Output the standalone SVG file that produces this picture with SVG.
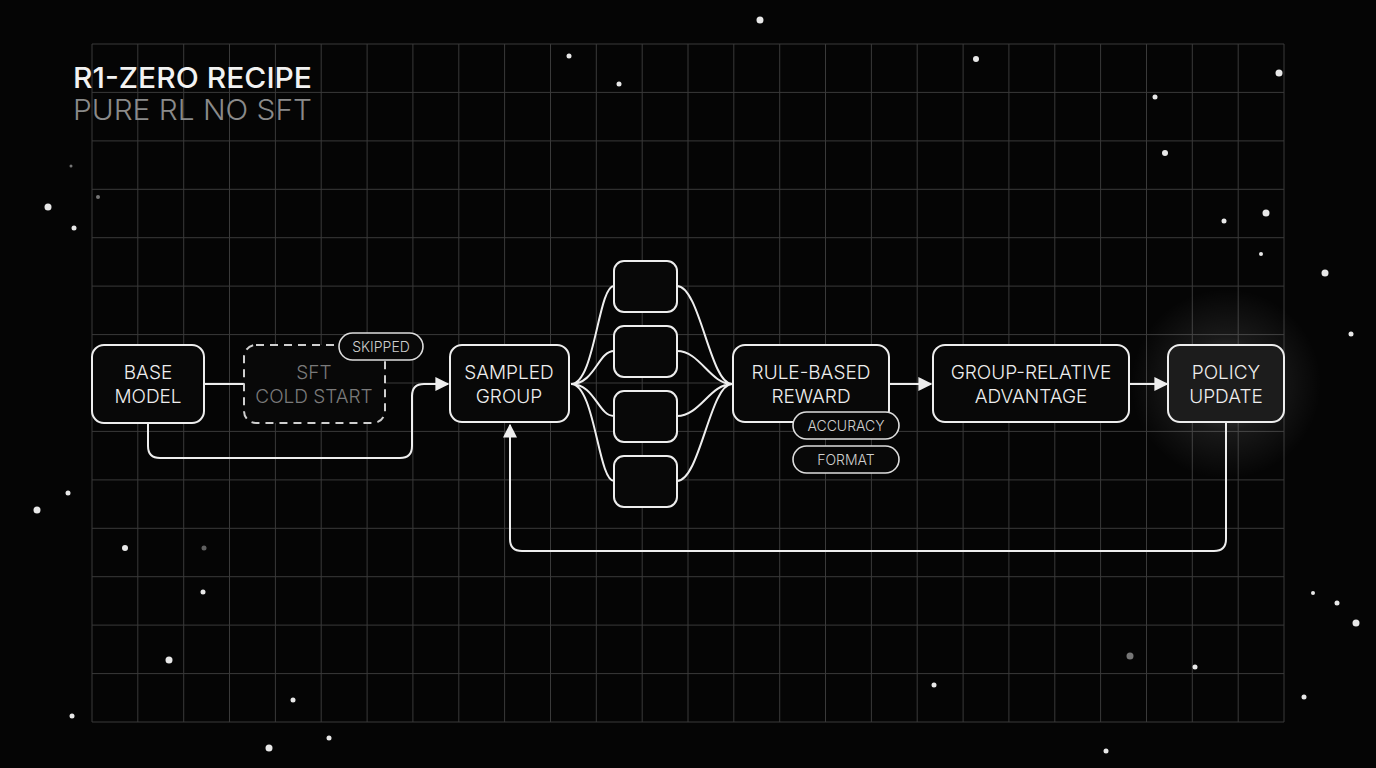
<svg xmlns="http://www.w3.org/2000/svg" width="1376" height="768" viewBox="0 0 1376 768">
<defs>
<style>
.grid{stroke:#3a3a3a;stroke-width:1}
.box{fill:#080808;stroke:#ededed;stroke-width:2}
.lbl{font-family:Inter,"Liberation Sans",sans-serif;font-size:19px;font-weight:300;fill:#eeeeee;text-anchor:middle}
.pill{fill:#080808;stroke:#dddddd;stroke-width:1.6}
.plbl{font-family:Inter,"Liberation Sans",sans-serif;font-size:14px;font-weight:300;fill:#cfcfcf;text-anchor:middle}
.wire{fill:none;stroke:#eeeeee;stroke-width:2}
.star{fill:#e8e8e8}
</style>
<marker id="ah2" viewBox="0 0 10 10" refX="9" refY="5" markerWidth="14" markerHeight="14" orient="auto" markerUnits="userSpaceOnUse"><path d="M0,0 L10,5 L0,10 z" fill="#eeeeee"/></marker>
<radialGradient id="glow"><stop offset="0" stop-color="#ffffff" stop-opacity="0.3"/><stop offset="0.5" stop-color="#ffffff" stop-opacity="0.08"/><stop offset="1" stop-color="#ffffff" stop-opacity="0"/></radialGradient>
</defs>
<rect width="1376" height="768" fill="#050505"/>
<g id="grid">
<path class="grid" d="M92,44V722M137.8,44V722M183.7,44V722M229.5,44V722M275.4,44V722M321.2,44V722M367.1,44V722M412.9,44V722M458.8,44V722M504.6,44V722M550.5,44V722M596.3,44V722M642.2,44V722M688,44V722M733.8,44V722M779.7,44V722M825.5,44V722M871.4,44V722M917.2,44V722M963.1,44V722M1008.9,44V722M1054.8,44V722M1100.6,44V722M1146.5,44V722M1192.3,44V722M1238.2,44V722M1284,44V722"/>
<path class="grid" d="M92,44H1284M92,92.4H1284M92,140.9H1284M92,189.3H1284M92,237.7H1284M92,286.1H1284M92,334.6H1284M92,383H1284M92,431.4H1284M92,479.9H1284M92,528.3H1284M92,576.7H1284M92,625.1H1284M92,673.6H1284M92,722H1284"/>
</g>
<g id="stars">
<circle class="star" cx="760" cy="20" r="3.5"/><circle class="star" cx="569" cy="56" r="2.5"/><circle class="star" cx="619" cy="84" r="2.5"/><circle class="star" cx="976" cy="59" r="3"/><circle class="star" cx="1279" cy="73" r="3.5"/><circle class="star" cx="1155" cy="97" r="2.5"/><circle class="star" cx="1165" cy="153" r="3"/><circle class="star" cx="1266" cy="213" r="3.5"/><circle class="star" cx="1224" cy="221" r="2.5"/><circle class="star" cx="1261" cy="254" r="2"/><circle class="star" cx="1325" cy="273" r="3.5"/><circle class="star" cx="1351" cy="334" r="2.5"/><circle class="star" cx="48" cy="207" r="3.5"/><circle class="star" cx="74" cy="228" r="2.5"/><circle class="star" cx="98" cy="197" r="2" opacity="0.5"/><circle class="star" cx="71" cy="166" r="1.5" opacity="0.5"/><circle class="star" cx="37" cy="510" r="3.5"/><circle class="star" cx="68" cy="493" r="2.5"/><circle class="star" cx="125" cy="548" r="3"/><circle class="star" cx="204" cy="548" r="2.5" opacity="0.4"/><circle class="star" cx="203" cy="592" r="2.5"/><circle class="star" cx="169" cy="660" r="3.5"/><circle class="star" cx="293" cy="700" r="2.5"/><circle class="star" cx="72" cy="716" r="2.5"/><circle class="star" cx="269" cy="748" r="3.5"/><circle class="star" cx="329" cy="738" r="2.5"/><circle class="star" cx="934" cy="685" r="2.5"/><circle class="star" cx="1130" cy="656" r="3.5" opacity="0.5"/><circle class="star" cx="1195" cy="667" r="2.5"/><circle class="star" cx="1106" cy="751" r="2.5"/><circle class="star" cx="1304" cy="697" r="2.5"/><circle class="star" cx="1356" cy="623" r="3.5"/><circle class="star" cx="1337" cy="603" r="2.5"/><circle class="star" cx="1313" cy="593" r="2"/>
</g>
<g id="title">
<text x="73" y="88" font-family="Inter,'Liberation Sans',sans-serif" font-size="29" font-weight="500" fill="#f2f2f2" textLength="239" lengthAdjust="spacingAndGlyphs">R1-ZERO RECIPE</text>
<text x="73" y="120" font-family="Inter,'Liberation Sans',sans-serif" font-size="29" font-weight="300" fill="#8a8a8a" textLength="239" lengthAdjust="spacingAndGlyphs">PURE RL NO SFT</text>
</g>
<circle cx="1226" cy="384" r="95" fill="url(#glow)"/>
<g id="connectors">
<path class="wire" d="M204,384H244"/>
<path class="wire" d="M148,423V446Q148,458 160,458H400Q412,458 412,446V396Q412,384 424,384H448" marker-end="url(#ah2)"/>
<path class="wire" d="M571,384C595,384 598,286 614,286M571,384C595,384 598,351 614,351M571,384C595,384 598,416 614,416M571,384C595,384 598,481 614,481"/>
<path class="wire" d="M677,286C700,286 710,384 732,384M677,351C700,351 710,384 732,384M677,416C700,416 710,384 732,384M677,481C700,481 710,384 732,384"/>
<path class="wire" d="M889,384H931" marker-end="url(#ah2)"/>
<path class="wire" d="M1129,384H1167" marker-end="url(#ah2)"/>
<path class="wire" d="M1226,422V539Q1226,551 1214,551H522Q510,551 510,539V425" marker-end="url(#ah2)"/>
</g>
<g id="base-model"><rect x="92" y="345" width="112" height="78" rx="12" class="box" stroke-width="3.5"/><text class="lbl" x="148" y="379">BASE</text><text class="lbl" x="148" y="403">MODEL</text></g>
<g id="sft-cold-start"><rect x="244" y="345" width="141" height="78" rx="12" fill="#080808" stroke="#cfcfcf" stroke-width="2" stroke-dasharray="8,6"/><text class="lbl" x="314" y="379" style="fill:#7a7a7a">SFT</text><text class="lbl" x="314" y="403" style="fill:#7a7a7a">COLD START</text></g>
<g id="skipped"><rect x="339" y="333" width="84" height="27" rx="13.5" class="pill"/><text class="plbl" x="381" y="352">SKIPPED</text></g>
<g id="sampled-group"><rect x="450" y="345" width="119" height="77" rx="12" class="box"/><text class="lbl" x="509" y="379">SAMPLED</text><text class="lbl" x="509" y="403">GROUP</text></g>
<g id="sample-1"><rect x="614" y="261" width="63" height="51" rx="10" class="box"/></g>
<g id="sample-2"><rect x="614" y="326" width="63" height="51" rx="10" class="box"/></g>
<g id="sample-3"><rect x="614" y="391" width="63" height="51" rx="10" class="box"/></g>
<g id="sample-4"><rect x="614" y="456" width="63" height="51" rx="10" class="box"/></g>
<g id="rule-based-reward"><rect x="733" y="345" width="156" height="77" rx="12" class="box"/><text class="lbl" x="811" y="379">RULE-BASED</text><text class="lbl" x="811" y="403">REWARD</text></g>
<g id="accuracy"><rect x="793" y="412" width="106" height="27" rx="13.5" class="pill"/><text class="plbl" x="846" y="431">ACCURACY</text></g>
<g id="format"><rect x="793" y="446" width="106" height="27" rx="13.5" class="pill"/><text class="plbl" x="846" y="465">FORMAT</text></g>
<g id="group-relative-advantage"><rect x="933" y="345" width="196" height="77" rx="12" class="box"/><text class="lbl" x="1031" y="379">GROUP-RELATIVE</text><text class="lbl" x="1031" y="403">ADVANTAGE</text></g>
<g id="policy-update"><rect x="1168" y="345" width="116" height="77" rx="12" class="box" style="fill:#1c1c1c"/><text class="lbl" x="1226" y="379">POLICY</text><text class="lbl" x="1226" y="403">UPDATE</text></g>
</svg>
